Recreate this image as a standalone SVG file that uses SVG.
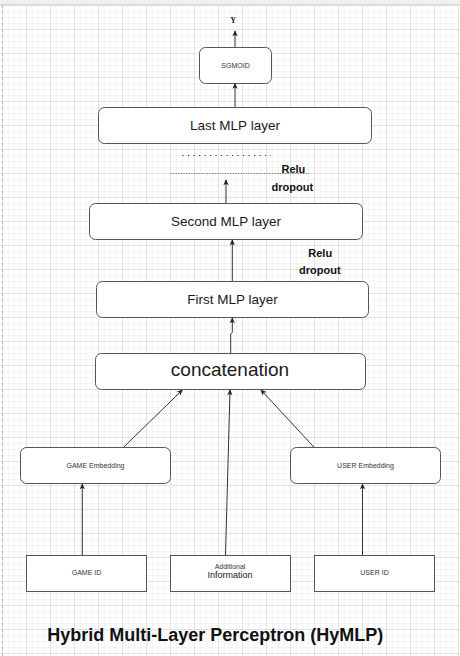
<svg xmlns="http://www.w3.org/2000/svg" width="460" height="656" viewBox="0 0 460 656">
<defs>
<pattern id="grid" x="2" y="5" width="24" height="24" patternUnits="userSpaceOnUse">
<path d="M6.5 0V24M12.5 0V24M18.5 0V24M0 6.5H24M0 12.5H24M0 18.5H24" stroke="#f4f4f4" stroke-width="1" fill="none"/>
<path d="M0.5 0V24M0 0.5H24" stroke="#e2e2e2" stroke-width="1" fill="none"/>
</pattern>
<marker id="arr" viewBox="0 0 8 8" refX="7" refY="4" markerWidth="6" markerHeight="6" orient="auto" markerUnits="userSpaceOnUse">
<path d="M0,0.5 L8,4 L0,7.5 L2,4 z" fill="#222"/>
</marker>
<style>
.box{fill:#fff;stroke:#555;stroke-width:1}
.lbl{font-family:"Liberation Sans",Arial,sans-serif;fill:#1a1a1a;text-anchor:middle;dominant-baseline:central}
.sm{font-size:7px;fill:#333}
.md{font-size:13.5px}
.relu{font-family:"Liberation Sans",Arial,sans-serif;font-weight:bold;font-size:11px;fill:#111}
.con{fill:none;stroke:#333;stroke-width:1}
</style>
</defs>
<rect x="0" y="0" width="460" height="656" fill="#fff"/>
<rect x="0" y="0" width="460" height="656" fill="url(#grid)"/>
<rect x="0" y="0" width="460" height="4" fill="#f0f0f0"/>
<line x1="0" y1="4.5" x2="460" y2="4.5" stroke="#d8d8d8"/>
<line x1="2.5" y1="5" x2="2.5" y2="656" stroke="#bbb" stroke-dasharray="3 3"/>

<g id="connectors">
<line class="con" x1="235" y1="47" x2="235" y2="31" marker-end="url(#arr)"/>
<line class="con" x1="235" y1="107" x2="235" y2="83.5" marker-end="url(#arr)"/>
<line class="con" x1="226" y1="203.5" x2="226" y2="180" marker-end="url(#arr)"/>
<line class="con" x1="232.3" y1="281.5" x2="232.3" y2="240" marker-end="url(#arr)"/>
<path class="con" d="M230.7 353.5 L230.7 334 L232.3 332.5 L232.3 318" marker-end="url(#arr)"/>
<line class="con" x1="123.3" y1="447.5" x2="182.3" y2="390" marker-end="url(#arr)"/>
<line class="con" x1="314.3" y1="447.5" x2="261" y2="390" marker-end="url(#arr)"/>
<line class="con" x1="225.5" y1="555.5" x2="230" y2="390" marker-end="url(#arr)"/>
<line class="con" x1="82.3" y1="555.5" x2="82.3" y2="484" marker-end="url(#arr)"/>
<line class="con" x1="362.5" y1="555.5" x2="362.5" y2="484" marker-end="url(#arr)"/>
<line x1="182.5" y1="155.5" x2="271" y2="155.5" stroke="#333" stroke-width="1" stroke-dasharray="1.2 4.3"/>
<line x1="170.5" y1="173.5" x2="309" y2="173.5" stroke="#666" stroke-width="1" stroke-dasharray="1 1.6"/>
</g>

<g id="y-label"><text x="233.3" y="20.5" font-family="'Liberation Serif',serif" font-weight="bold" font-size="7.5px" fill="#111" text-anchor="middle" dominant-baseline="central">Y</text></g>

<g id="sgmoid">
<rect class="box" x="199.5" y="47.5" width="72" height="36" rx="6"/>
<text class="lbl sm" x="235.5" y="65.5">SGMOID</text>
</g>
<g id="last-mlp">
<rect class="box" x="98.5" y="107.5" width="273" height="36" rx="6"/>
<text class="lbl md" x="235" y="125">Last MLP layer</text>
</g>
<g id="relu-dropout-1">
<text class="relu" x="281.5" y="172.5">Relu</text>
<text class="relu" x="271.5" y="190.5">dropout</text>
</g>
<g id="second-mlp">
<rect class="box" x="89.5" y="203.5" width="273" height="36" rx="6"/>
<text class="lbl md" x="226" y="221">Second MLP layer</text>
</g>
<g id="relu-dropout-2">
<text class="relu" x="308.3" y="256.5">Relu</text>
<text class="relu" x="299" y="274">dropout</text>
</g>
<g id="first-mlp">
<rect class="box" x="96.5" y="281.5" width="272" height="36" rx="6"/>
<text class="lbl md" x="232.5" y="299">First MLP layer</text>
</g>
<g id="concatenation">
<rect class="box" x="95.5" y="353.5" width="270" height="36" rx="6"/>
<text class="lbl" x="230" y="369.5" font-size="19px">concatenation</text>
</g>
<g id="game-embedding">
<rect class="box" x="20.5" y="447.5" width="150" height="36" rx="6"/>
<text class="lbl sm" x="95.5" y="465">GAME Embedding</text>
</g>
<g id="user-embedding">
<rect class="box" x="290.5" y="447.5" width="150" height="36" rx="6"/>
<text class="lbl sm" x="365.5" y="465">USER Embedding</text>
</g>
<g id="game-id">
<rect class="box" x="26.5" y="555.5" width="120" height="36"/>
<text class="lbl sm" x="86.5" y="572.5">GAME ID</text>
</g>
<g id="additional-information">
<rect class="box" x="170.5" y="555.5" width="120" height="36"/>
<text class="lbl sm" x="230" y="566">Additional</text>
<text class="lbl" x="230" y="575" font-size="9px">Information</text>
</g>
<g id="user-id">
<rect class="box" x="314.5" y="555.5" width="120" height="36"/>
<text class="lbl sm" x="374.5" y="572.5">USER ID</text>
</g>
<g id="title">
<text x="215.3" y="641" font-family="'Liberation Sans',Arial,sans-serif" font-weight="bold" font-size="18px" fill="#111" text-anchor="middle">Hybrid Multi-Layer Perceptron (HyMLP)</text>
</g>
</svg>
